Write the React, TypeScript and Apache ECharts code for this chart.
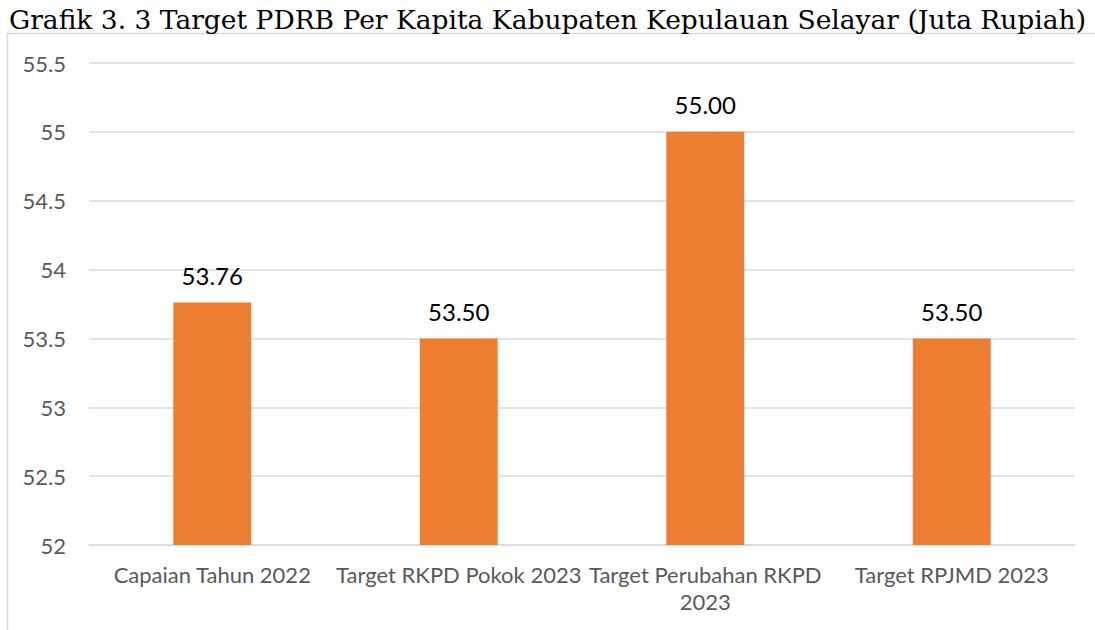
import React, { useEffect, useRef } from "react";
import * as echarts from "echarts";

const categories = ["Capaian Tahun 2022", "Target RKPD Pokok 2023", "Target Perubahan RKPD\n2023", "Target RPJMD 2023"];
const values = [53.76, 53.5, 55.0, 53.5];
const titleText = "Grafik 3. 3 Target PDRB Per Kapita Kabupaten Kepulauan Selayar (Juta Rupiah)";

export default function App() {
  const ref = useRef<HTMLDivElement>(null);
  useEffect(() => {
    document.body.style.margin = "0";
    const chart = echarts.init(ref.current!, null, { renderer: "svg" });
    chart.setOption({
      animation: false,
      backgroundColor: "#ffffff",
      title: {
        text: titleText,
        left: "center",
        top: 1,
        textStyle: { fontFamily: "DejaVu Serif", fontSize: 26.5, fontWeight: "normal", color: "#000000" },
      },
      graphic: [
        {
          type: "polyline",
          shape: { points: [[7.5, 640], [7.5, 33.5], [1100, 33.5]] },
          style: { stroke: "#d9d9d9", lineWidth: 1.5, fill: "none" },
        },
      ],
      grid: { left: 89, right: 20, top: 63, bottom: 85 },
      xAxis: {
        type: "category",
        data: categories,
        axisLine: { lineStyle: { color: "#d9d9d9", width: 1.5 } },
        axisTick: { show: false },
        axisLabel: { color: "#595959", fontFamily: "Lato", fontSize: 22, margin: 16, interval: 0, lineHeight: 27 },
      },
      yAxis: {
        type: "value",
        min: 52,
        max: 55.5,
        interval: 0.5,
        axisLine: { show: false },
        axisTick: { show: false },
        splitLine: { lineStyle: { color: "#d9d9d9", width: 1.5 } },
        axisLabel: { color: "#595959", fontFamily: "Lato", fontSize: 22, margin: 23 },
      },
      series: [
        {
          type: "bar",
          data: values,
          barWidth: "31.6%",
          itemStyle: { color: "#ED7D31" },
          label: {
            show: true,
            position: "top",
            distance: 15,
            formatter: (p: any) => p.value.toFixed(2),
            color: "#000000",
            fontFamily: "Lato",
            fontSize: 24,
          },
        },
      ],
    });
    return () => chart.dispose();
  }, []);
  return <div ref={ref} style={{ width: 1095, height: 630 }} />;
}
